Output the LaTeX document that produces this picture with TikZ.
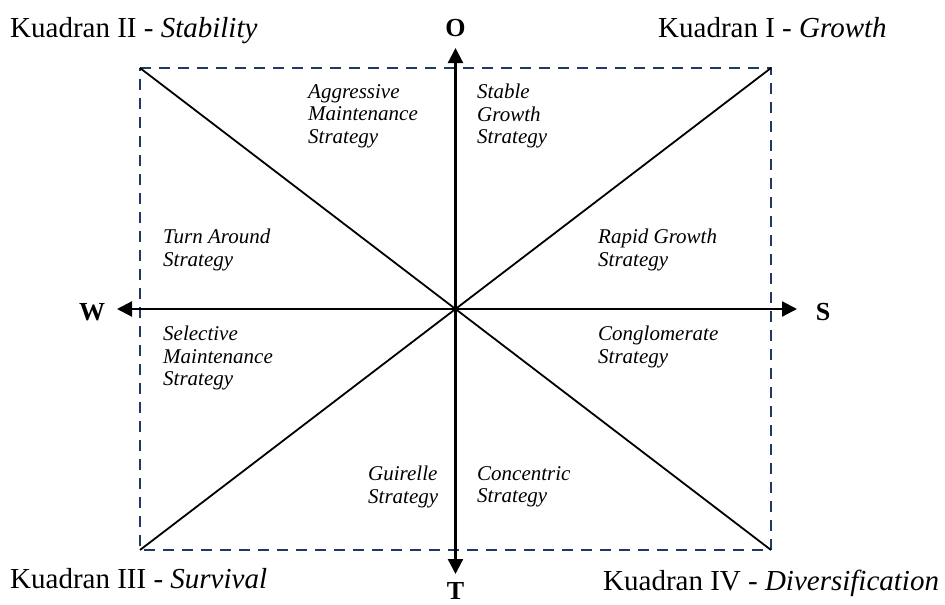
\documentclass[tikz,border=0pt]{standalone}
\usepackage{fontspec}
\setmainfont{Liberation Serif}
\usetikzlibrary{arrows.meta}
\definecolor{navy}{HTML}{1F3864}
\begin{document}
\begin{tikzpicture}[x=1pt,y=-1pt,
  axisline/.style={line width=2.2pt, {Triangle[length=15pt,width=15pt]}-{Triangle[length=15pt,width=15pt]}},
  diag/.style={line width=1.8pt},
  frame/.style={draw=navy, line width=2.6pt, dash pattern=on 11pt off 8pt},
  quad/.style={font=\fontsize{29}{32}\selectfont, inner sep=0pt, anchor=base west},
  pole/.style={font=\fontsize{26}{28}\selectfont\bfseries, inner sep=0pt, anchor=base},
  strat/.style={font=\fontsize{21}{22.5}\selectfont\itshape, align=left, anchor=west, inner sep=0pt}]
\useasboundingbox (0,0) rectangle (945,605);
% frame corners and centre
\coordinate (tl) at (140,68);
\coordinate (tr) at (771,68);
\coordinate (bl) at (140,550);
\coordinate (br) at (771,550);
\coordinate (c) at (455.5,309);
% axis tips
\coordinate (otip) at (455.5,48);
\coordinate (ttip) at (455.5,574);
\coordinate (wtip) at (117,309);
\coordinate (stip) at (797,309);
% frame
\draw[frame] (tl) -- (tr) -- (br) -- (bl) -- cycle;
% diagonals
\draw[diag] (tl) -- (br);
\draw[diag] (bl) -- (tr);
% axes
\draw[axisline] (ttip) -- (otip);
\draw[axisline] (wtip) -- (stip);
% pole labels
\node[pole] (O) at (455.5,36) {O};
\node[pole] (T) at (455.5,599) {T};
\node[pole] (W) at (92,320) {W};
\node[pole] (S) at (823,320) {S};
% quadrant labels
\node[quad] (q2) at (10,37) {Kuadran II - \textit{Stability}};
\node[quad] (q1) at (658,37) {Kuadran I - \textit{Growth}};
\node[quad] (q3) at (10,588) {Kuadran III - \textit{Survival}};
\node[quad] (q4) at (603,590) {Kuadran IV - \textit{Diversification}};
% strategies
\node[strat] (ams) at (308,116) {Aggressive\\Maintenance\\Strategy};
\node[strat] (sgs) at (477,116) {Stable\\Growth\\Strategy};
\node[strat] (tas) at (163,250) {Turn Around\\Strategy};
\node[strat] (rgs) at (598,250) {Rapid Growth\\Strategy};
\node[strat] (sms) at (163,358) {Selective\\Maintenance\\Strategy};
\node[strat] (cgs) at (598,347) {Conglomerate\\Strategy};
\node[strat] (gus) at (368,487) {Guirelle\\Strategy};
\node[strat] (ccs) at (477,487) {Concentric\\Strategy};
\end{tikzpicture}
\end{document}
